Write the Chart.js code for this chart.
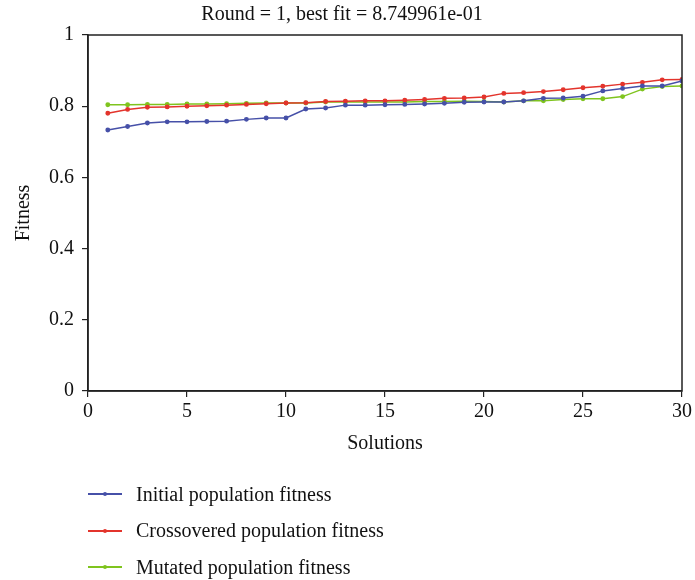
<!DOCTYPE html>
<html>
<head>
<meta charset="utf-8">
<script src="https://cdn.jsdelivr.net/npm/chart.js@4.4.1/dist/chart.umd.min.js"></script>
<style>
  body { margin: 0; background: #fff; }
  #wrap { position: relative; width: 695px; height: 580px; }
  #legend { position: absolute; left: 88px; top: 476px; font-family: "Liberation Serif", serif; font-size: 20px; color: #111; }
  .item { display: flex; align-items: center; height: 36.5px; }
  .swatch { position: relative; width: 34px; height: 2px; margin-right: 14px; }
  .swatch span { position: absolute; left: 15px; top: -1px; width: 4px; height: 4px; border-radius: 2px; }
</style>
</head>
<body>
<div id="wrap">
  <canvas id="fitChart" width="695" height="580"></canvas>
  <div id="legend"></div>
</div>
<script>
const solutions = [1, 2, 3, 4, 5, 6, 7, 8, 9, 10, 11, 12, 13, 14, 15, 16, 17, 18, 19, 20, 21, 22, 23, 24, 25, 26, 27, 28, 29, 30];
const initialFitness = [0.733, 0.743, 0.753, 0.756, 0.756, 0.757, 0.758, 0.763, 0.767, 0.767, 0.792, 0.795, 0.803, 0.803, 0.804, 0.805, 0.806, 0.808, 0.811, 0.812, 0.812, 0.815, 0.822, 0.823, 0.828, 0.843, 0.850, 0.857, 0.857, 0.871];
const crossoverFitness = [0.780, 0.791, 0.797, 0.798, 0.800, 0.801, 0.803, 0.805, 0.807, 0.809, 0.810, 0.813, 0.814, 0.815, 0.815, 0.817, 0.819, 0.822, 0.823, 0.826, 0.836, 0.838, 0.841, 0.846, 0.852, 0.856, 0.862, 0.867, 0.874, 0.875];
const mutatedFitness = [0.804, 0.804, 0.805, 0.805, 0.806, 0.806, 0.807, 0.808, 0.809, 0.809, 0.809, 0.812, 0.812, 0.812, 0.812, 0.812, 0.813, 0.813, 0.814, 0.813, 0.812, 0.815, 0.815, 0.819, 0.821, 0.821, 0.827, 0.848, 0.855, 0.857];
const seriesNames = ['Initial population fitness', 'Crossovered population fitness', 'Mutated population fitness'];
const seriesColors = ['#4650a8', '#e3342c', '#7fc41e'];

const font = 'Liberation Serif';

function toPoints(values) {
    return values.map((v, i) => ({ x: solutions[i], y: v }));
}

// box around the plotting area
const frame = {
    id: 'frame',
    afterDraw(chart) {
        const { ctx, chartArea: a } = chart;
        ctx.save();
        ctx.strokeStyle = '#222';
        ctx.lineWidth = 1.5;
        ctx.strokeRect(a.left, a.top, a.right - a.left, a.bottom - a.top);
        ctx.restore();
    }
};

const ctx = document.getElementById('fitChart').getContext('2d');
const fitChart = new Chart(ctx, {
    type: 'line',
    data: {
        datasets: [initialFitness, crossoverFitness, mutatedFitness].map((vals, i) => ({
            label: seriesNames[i],
            data: toPoints(vals),
            borderColor: seriesColors[i],
            backgroundColor: seriesColors[i],
            borderWidth: 1.5,
            pointRadius: 1.7,
            pointHoverRadius: 1.7,
            tension: 0
        }))
    },
    options: {
        responsive: false,
        animation: false,
        layout: { padding: { top: 0, right: 11, bottom: 120, left: 0 } },
        plugins: {
            legend: { display: false },
            tooltip: { enabled: false },
            title: {
                display: true,
                text: 'Round = 1, best fit = 8.749961e-01',
                color: '#111',
                font: { family: font, size: 20, weight: 'normal' },
                padding: { top: 3, bottom: 8 }
            }
        },
        scales: {
            x: {
                type: 'linear',
                min: 0,
                max: 30,
                ticks: { stepSize: 5, color: '#111', padding: 3, font: { family: font, size: 20 } },
                grid: { drawOnChartArea: false, tickLength: 6, color: '#222', lineWidth: 1.2 },
                border: { color: '#222', width: 1.5 },
                title: { display: true, text: 'Solutions', color: '#111', padding: { top: 5 }, font: { family: font, size: 20 } },
                afterFit(scale) { scale.height = 69; }
            },
            y: {
                min: 0,
                max: 1,
                ticks: {
                    stepSize: 0.2, color: '#111', padding: 8, font: { family: font, size: 20 },
                    callback: v => String(Number(v.toFixed(1)))
                },
                grid: { drawOnChartArea: false, tickLength: 6, color: '#222', lineWidth: 1.2 },
                border: { color: '#222', width: 1.5 },
                title: { display: true, text: 'Fitness', color: '#111', padding: { top: 12, bottom: 0 }, font: { family: font, size: 20 } },
                afterFit(scale) { scale.width = 88; }
            }
        }
    },
    plugins: [frame]
});

const legend = document.getElementById('legend');
seriesNames.forEach((name, i) => {
    const row = document.createElement('div');
    row.className = 'item';
    row.innerHTML = '<div class="swatch" style="background:' + seriesColors[i] + '"><span style="background:' + seriesColors[i] + '"></span></div><div>' + name + '</div>';
    legend.appendChild(row);
});
</script>
</body>
</html>
